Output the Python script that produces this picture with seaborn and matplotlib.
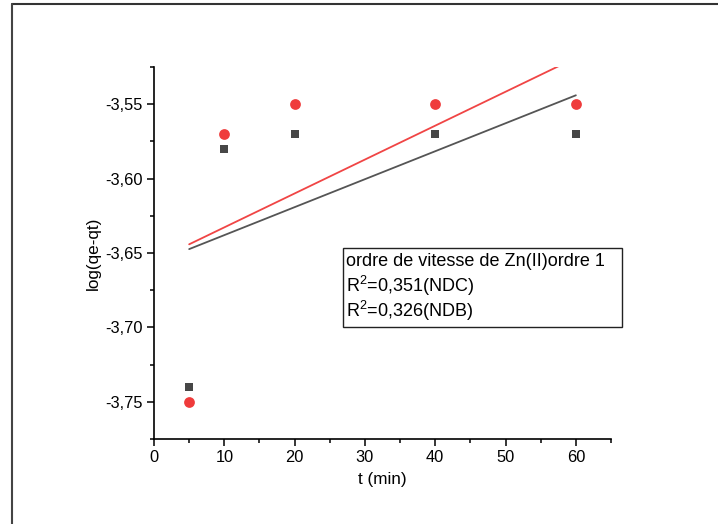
import matplotlib
matplotlib.use("Agg")
import matplotlib.pyplot as plt
import seaborn as sns
import pandas as pd
from matplotlib.lines import Line2D
from matplotlib.patches import Rectangle
from matplotlib.ticker import MultipleLocator, FuncFormatter

t_min = [5, 10, 20, 40, 60]
ndb = [-3.74, -3.58, -3.57, -3.57, -3.57]
ndc = [-3.75, -3.57, -3.55, -3.55, -3.55]
legend_lines = ["ordre de vitesse de Zn(II)ordre 1",
                "R$^2$=0,351(NDC)",
                "R$^2$=0,326(NDB)"]

sns.set_theme(style="white")
plt.rcParams['font.family'] = ['Liberation Sans', 'DejaVu Sans']
plt.rcParams['mathtext.fontset'] = 'custom'
plt.rcParams['mathtext.rm'] = 'Liberation Sans'
plt.rcParams['mathtext.it'] = 'Liberation Sans'

df = pd.DataFrame({"t": t_min, "NDB": ndb, "NDC": ndc})

fig = plt.figure(figsize=(7.18, 5.24), dpi=100)
ax = fig.add_axes([0.2145, 0.1622, 0.851 - 0.2145, 0.872 - 0.1622])

sns.regplot(data=df, x="t", y="NDB", ax=ax, ci=None, marker="s",
            scatter_kws=dict(s=40, color="#474747", alpha=1, linewidths=0, zorder=3),
            line_kws=dict(color="#555555", lw=1.3))
sns.regplot(data=df, x="t", y="NDC", ax=ax, ci=None, marker="o",
            scatter_kws=dict(s=60, color="#ef3b3b", alpha=1, linewidths=0, zorder=3),
            line_kws=dict(color="#f04545", lw=1.3))

ax.set_xlim(0, 65)
ax.set_ylim(-3.775, -3.525)
ax.xaxis.set_major_locator(MultipleLocator(10))
ax.xaxis.set_minor_locator(MultipleLocator(5))
ax.yaxis.set_major_locator(MultipleLocator(0.05))
ax.yaxis.set_minor_locator(MultipleLocator(0.025))
ax.yaxis.set_major_formatter(FuncFormatter(lambda v, p: f"{v:.2f}".replace(".", ",")))

for s in ["top", "right"]:
    ax.spines[s].set_visible(False)
for s in ["left", "bottom"]:
    ax.spines[s].set_color("black")
    ax.spines[s].set_linewidth(1.2)
ax.tick_params(which="both", direction="out", color="black", width=1.1,
               labelsize=11.8, labelcolor="black")
ax.tick_params(which="major", length=5, left=True, bottom=True, pad=3)
ax.tick_params(which="minor", length=3, left=True, bottom=True)
ax.set_xlabel("t (min)", fontsize=12.3, color="black", labelpad=5)
ax.set_ylabel("log(qe-qt)", fontsize=12.3, color="black", labelpad=3)

# annotation box
W, H = 718, 524
x0, x1, y0, y1 = 343, 622, 248, 327
fig.add_artist(Rectangle((x0 / W, 1 - y1 / H), (x1 - x0) / W, (y1 - y0) / H,
                         transform=fig.transFigure, fill=False,
                         edgecolor="#222222", lw=1.0))
for i, txt in enumerate(legend_lines):
    fig.text(346 / W, 1 - (261 + 25 * i) / H, txt, fontsize=13,
             ha="left", va="center", color="black")

# outer frame (top and left)
fig.add_artist(Line2D([12 / W, 1], [1 - 4 / H, 1 - 4 / H], transform=fig.transFigure,
                      color="#333333", lw=1.5))
fig.add_artist(Line2D([12 / W, 12 / W], [0, 1 - 4 / H], transform=fig.transFigure,
                      color="#444444", lw=1.5))

fig.savefig("out.png", dpi=100)
